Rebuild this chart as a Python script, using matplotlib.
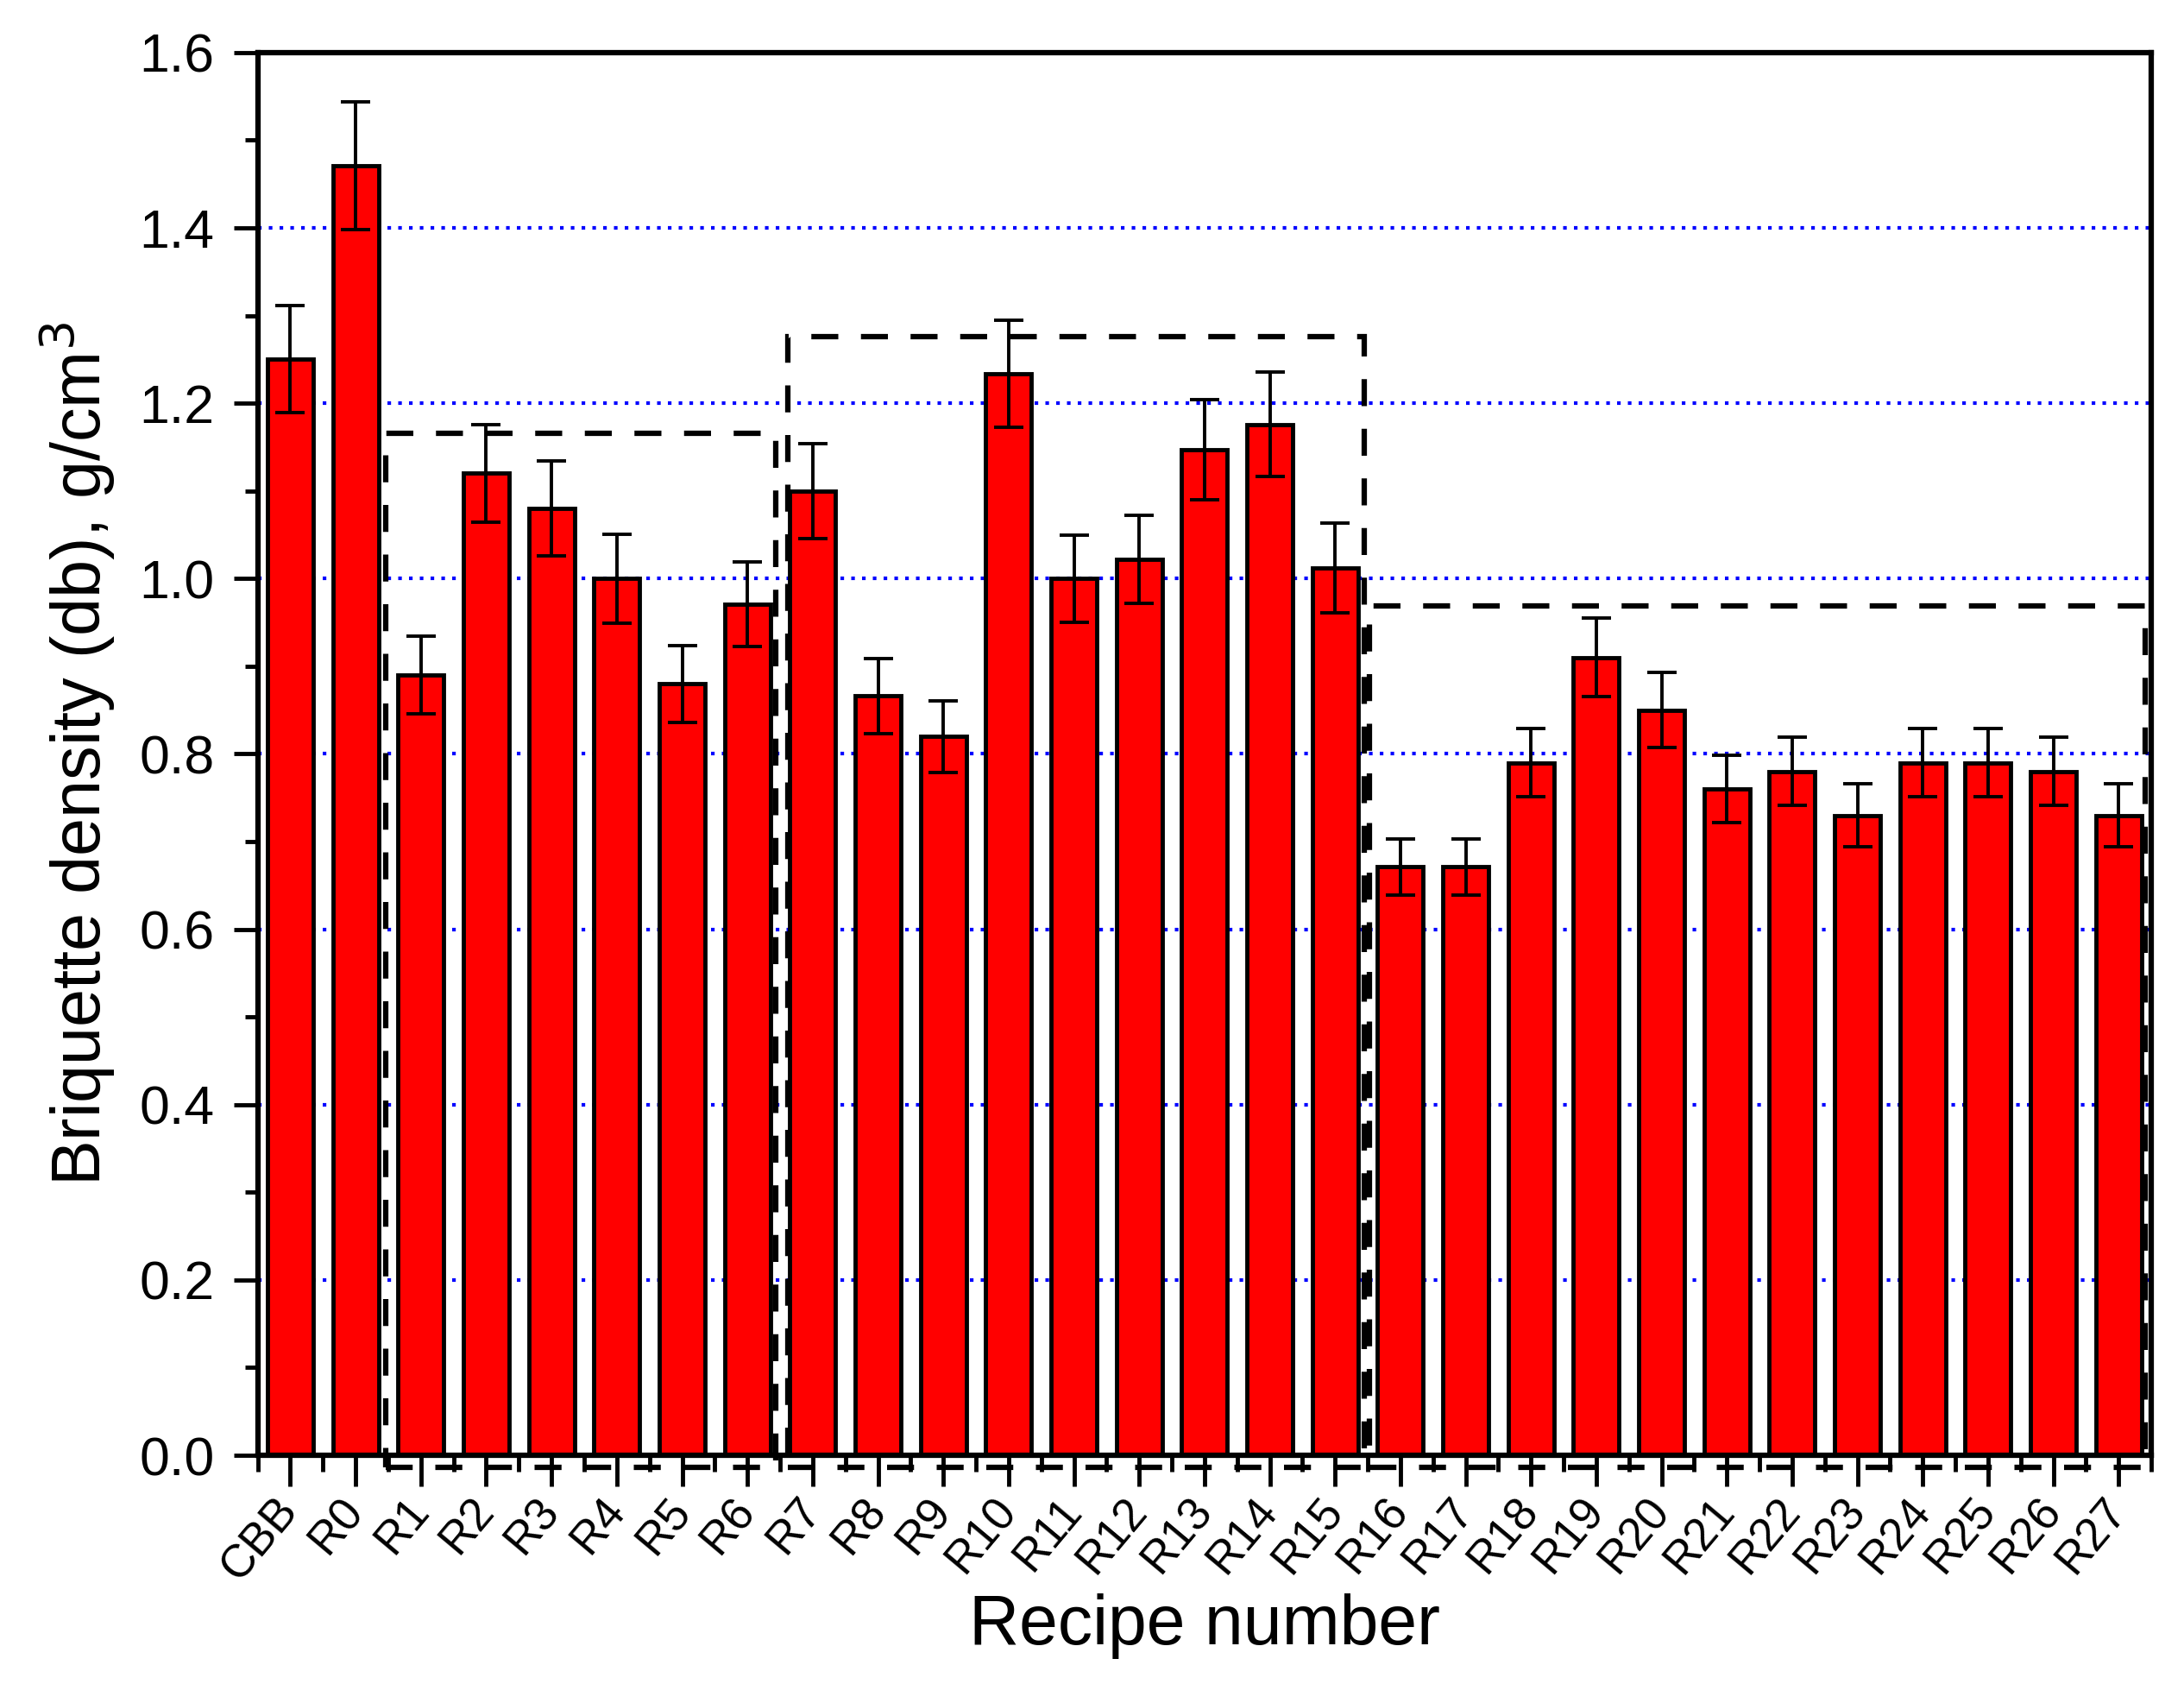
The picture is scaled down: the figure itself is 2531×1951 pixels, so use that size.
# -*- coding: utf-8 -*-
"""
Densidad de briquetas (base seca) por receta, con barras de error y
los tres grupos de recetas marcados con rectángulos discontinuos.
Salida: out.png
"""
import numpy as np
import matplotlib
matplotlib.use("Agg")
import matplotlib.pyplot as plt
from matplotlib.patches import Rectangle
from matplotlib.ticker import MultipleLocator, FormatStrFormatter

plt.rcParams["font.family"] = ["Liberation Sans", "DejaVu Sans"]

# ---- datos ----
recipes = ["CBB", "R0", "R1", "R2", "R3", "R4", "R5", "R6", "R7", "R8", "R9",
           "R10", "R11", "R12", "R13", "R14", "R15", "R16", "R17", "R18", "R19",
           "R20", "R21", "R22", "R23", "R24", "R25", "R26", "R27"]
density = [1.25, 1.471, 0.89, 1.12, 1.08, 1.00, 0.88, 0.971, 1.10, 0.866, 0.82,
           1.234, 1.00, 1.022, 1.147, 1.176, 1.012, 0.671, 0.671, 0.79, 0.91,
           0.85, 0.76, 0.78, 0.73, 0.79, 0.79, 0.78, 0.73]
density_err = [0.061, 0.073, 0.044, 0.056, 0.054, 0.051, 0.044, 0.048, 0.054, 0.043, 0.041,
               0.061, 0.05, 0.05, 0.057, 0.06, 0.051, 0.032, 0.032, 0.039, 0.045,
               0.043, 0.038, 0.039, 0.036, 0.039, 0.039, 0.039, 0.036]

# grupos de recetas (x0, x1, y_top) en coordenadas de datos
group_boxes = [(1.455, 7.44, 1.166),
               (7.62, 16.45, 1.2755),
               (16.52, 28.41, 0.969)]
BOX_BOTTOM = -0.014

x = np.arange(len(recipes))

fig = plt.figure(figsize=(25.31, 19.51), dpi=100)
ax = fig.add_axes([0.118, 0.1358, 0.867, 0.833])

ax.bar(x, density, width=0.7, color="#ff0000", edgecolor="black", linewidth=3.5, zorder=2)
ax.errorbar(x, density, yerr=density_err, fmt="none", ecolor="black",
            elinewidth=2.8, capsize=12.5, capthick=2.8, zorder=3)

for x0, x1, ytop in group_boxes:
    ax.add_patch(Rectangle((x0, BOX_BOTTOM), x1 - x0, ytop - BOX_BOTTOM, fill=False,
                           edgecolor="black", linewidth=4.5, linestyle=(0, (5, 4.2)),
                           clip_on=False, zorder=4))

# líneas guía punteadas azules
ax.set_axisbelow(True)
ax.grid(axis="y", which="major", color="blue", linestyle=(0, (1, 2)), linewidth=3)

ax.set_xlim(-0.5, 28.5)
ax.set_ylim(0, 1.6)
ax.yaxis.set_major_locator(MultipleLocator(0.2))
ax.yaxis.set_minor_locator(MultipleLocator(0.1))
ax.yaxis.set_major_formatter(FormatStrFormatter("%.1f"))
ax.set_xticks(x)
ax.set_xticks(np.arange(-0.5, 29, 1.0), minor=True)
ax.set_xticklabels(recipes, rotation=50, ha="right", va="center", rotation_mode="anchor")

ax.tick_params(axis="x", which="major", length=26, width=3.5, labelsize=38, pad=14)
ax.tick_params(axis="x", which="minor", length=14, width=3.5)
ax.tick_params(axis="y", which="major", length=20, width=3.5, labelsize=45, pad=16)
ax.tick_params(axis="y", which="minor", length=11, width=3.5)
for sp in ax.spines.values():
    sp.set_linewidth(4.5)

ax.set_ylabel("Briquette density (db), g/cm$^3$", fontsize=57, labelpad=18)
ax.set_xlabel("Recipe number", fontsize=58, labelpad=4)

fig.savefig("out.png", dpi=100)
